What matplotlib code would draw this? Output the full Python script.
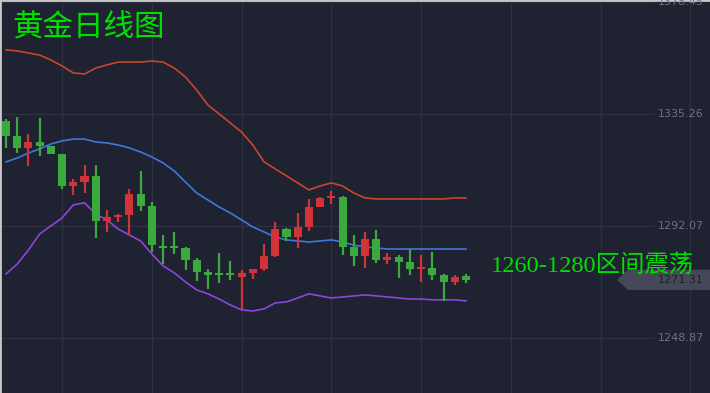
import matplotlib
matplotlib.use("Agg")
import matplotlib.pyplot as plt
import numpy as np
from matplotlib.patches import Polygon
from matplotlib.transforms import blended_transform_factory

plt.rcParams['font.family'] = ['Noto Sans CJK SC', 'DejaVu Sans']

# ---------------------------------------------------------------------------
# data
# ---------------------------------------------------------------------------
opens = [1332.6, 1326.8, 1322.2, 1324.5, 1322.9, 1319.8, 1307.5, 1309.0, 1311.4, 1294.0,
         1295.5, 1296.3, 1304.4, 1299.8, 1284.4, 1284.4, 1283.6, 1279.0, 1274.3, 1273.9,
         1273.9, 1272.4, 1273.9, 1275.5, 1280.5, 1290.9, 1287.8, 1291.7, 1299.4, 1302.9,
         1303.3, 1284.0, 1280.5, 1287.1, 1279.0, 1280.1, 1278.2, 1275.5, 1275.9, 1273.2,
         1270.5, 1272.8]
highs = [1333.3, 1334.1, 1327.6, 1333.7, 1322.9, 1319.8, 1310.2, 1315.6, 1315.6, 1298.2,
         1296.7, 1306.3, 1313.3, 1301.3, 1288.6, 1289.8, 1284.0, 1279.7, 1275.5, 1281.7,
         1278.6, 1275.1, 1275.5, 1285.1, 1293.6, 1291.3, 1297.1, 1302.5, 1303.3, 1305.6,
         1303.6, 1288.6, 1289.8, 1290.5, 1281.7, 1280.9, 1283.2, 1280.9, 1282.0, 1273.6,
         1273.2, 1273.6]
lows = [1322.2, 1320.2, 1315.2, 1319.1, 1319.8, 1306.3, 1304.0, 1304.8, 1287.4, 1289.8,
        1293.6, 1288.6, 1297.9, 1282.0, 1277.4, 1281.3, 1275.1, 1270.9, 1267.8, 1270.1,
        1271.3, 1260.1, 1271.6, 1274.7, 1280.1, 1286.3, 1283.6, 1290.1, 1299.4, 1300.6,
        1280.9, 1276.6, 1275.9, 1277.8, 1277.4, 1272.0, 1273.2, 1270.5, 1271.3, 1263.2,
        1269.3, 1270.1]
closes = [1326.8, 1322.2, 1324.5, 1322.9, 1319.8, 1307.5, 1309.0, 1311.4, 1294.0, 1295.5,
          1296.3, 1304.4, 1299.8, 1284.7, 1283.6, 1283.6, 1279.0, 1274.3, 1273.2, 1273.2,
          1273.2, 1273.9, 1275.5, 1280.5, 1290.9, 1287.8, 1291.7, 1299.4, 1302.9, 1303.6,
          1284.0, 1280.5, 1287.1, 1279.0, 1280.1, 1278.2, 1275.5, 1276.3, 1273.2, 1270.5,
          1272.4, 1271.31]

boll_upper = [1360.0, 1359.6, 1358.8, 1358.0, 1356.1, 1353.8, 1351.1, 1350.7, 1353.0, 1354.2,
              1355.3, 1355.3, 1355.3, 1355.7, 1355.3, 1353.0, 1349.5, 1344.5, 1338.7, 1335.3,
              1331.8, 1328.3, 1323.3, 1316.8, 1314.1, 1311.4, 1308.7, 1306.0, 1307.5, 1308.7,
              1307.5, 1304.8, 1302.9, 1302.5, 1302.5, 1302.5, 1302.5, 1302.5, 1302.5, 1302.5,
              1302.9, 1302.9]
boll_mid = [1316.8, 1318.3, 1320.2, 1321.8, 1323.7, 1324.9, 1325.6, 1325.6, 1324.5, 1324.1,
            1323.3, 1322.2, 1320.6, 1318.7, 1316.4, 1313.3, 1309.0, 1304.8, 1302.1, 1299.4,
            1297.1, 1294.4, 1291.7, 1289.8, 1287.8, 1286.7, 1286.3, 1285.9, 1286.3, 1286.7,
            1285.9, 1284.7, 1284.0, 1283.6, 1283.2, 1283.2, 1283.2, 1283.2, 1283.2, 1283.2,
            1283.2, 1283.2]
boll_lower = [1273.6, 1277.4, 1282.8, 1289.0, 1292.1, 1295.2, 1300.2, 1301.0, 1296.7, 1294.4,
              1290.9, 1288.6, 1286.3, 1281.3, 1276.7, 1274.0, 1270.5, 1267.4, 1265.9, 1263.9,
              1261.6, 1259.7, 1259.3, 1260.1, 1262.4, 1262.8, 1264.3, 1265.9, 1265.1, 1264.3,
              1264.7, 1265.1, 1265.5, 1265.1, 1264.7, 1264.3, 1263.9, 1263.9, 1263.6, 1263.6,
              1263.6, 1263.2]

price_ticks = [1378.45, 1335.26, 1292.07, 1248.87]
vgrid_idx = [5, 13, 21, 29, 37, 45, 53, 61]
last_price = 1271.31

TITLE = "黄金日线图"
NOTE = "1260-1280区间震荡"

# ---------------------------------------------------------------------------
# style
# ---------------------------------------------------------------------------
BG = "#1f2230"
GRID = "#2e3240"
UP = "#d13438"       # red = up
DOWN = "#3aaa3c"     # green = down
C_UPPER = "#c8462e"
C_MID = "#3f78dc"
C_LOWER = "#8c46dc"
TXT_GREEN = "#00e000"
AXIS_TXT = "#6c7282"

fig = plt.figure(figsize=(7.1, 3.93), dpi=100, facecolor=BG)
ax = fig.add_axes([0, 0, 1, 1])
ax.set_facecolor(BG)

n = len(opens)
idx = np.arange(n)
ax.set_xlim(-0.535, 62.75)
ax.set_ylim(1227.66, 1379.24)

# grid
for g in vgrid_idx:
    ax.axvline(g, color=GRID, lw=1, zorder=0)
for p in price_ticks:
    ax.axhline(p, xmax=653 / 710, color=GRID, lw=1, zorder=0)

# bollinger bands
ax.plot(idx, boll_upper, color=C_UPPER, lw=1.2, zorder=2)
ax.plot(idx, boll_mid, color=C_MID, lw=1.2, zorder=2)
ax.plot(idx, boll_lower, color=C_LOWER, lw=1.2, zorder=2)

# candles
o = np.array(opens)
c = np.array(closes)
colors = [UP if cc >= oo else DOWN for oo, cc in zip(o, c)]
ax.vlines(idx, lows, highs, colors=colors, lw=1.6, zorder=3)
body_h = np.maximum(np.abs(c - o), 0.7)
ax.bar(idx, body_h, bottom=np.minimum(o, c), width=0.72, color=colors, zorder=4)

# right price labels
tr = blended_transform_factory(ax.transAxes, ax.transData)
for p in price_ticks:
    ax.text(658 / 710, p, f"{p:.2f}", transform=tr, color=AXIS_TXT,
            fontsize=8, va="center", ha="left", family="DejaVu Sans")

# last price marker
hh = 3.9
marker = Polygon([(617 / 710, last_price), (628 / 710, last_price + hh),
                  (1.0, last_price + hh), (1.0, last_price - hh),
                  (628 / 710, last_price - hh)],
                 closed=True, transform=tr, facecolor="#454856",
                 edgecolor="none", zorder=5)
ax.add_patch(marker)
ax.text(658 / 710, last_price, f"{last_price:.2f}", transform=tr, color="#1e1f26",
        fontsize=8, va="center", ha="left", family="DejaVu Sans", zorder=6)

# texts
ax.text(12 / 710, 1 - 27 / 393, TITLE, transform=ax.transAxes, color=TXT_GREEN,
        fontsize=22, va="center", ha="left", zorder=7)
ax.text(491 / 710, 1 - 266 / 393, NOTE, transform=ax.transAxes, color=TXT_GREEN,
        fontsize=17.6, va="center", ha="left", zorder=7,
        family=["Liberation Serif", "Noto Sans CJK SC"])

# borders
for side in ("right", "bottom"):
    ax.spines[side].set_visible(False)
for side in ("top", "left"):
    ax.spines[side].set_color("#c8c8c8")
    ax.spines[side].set_linewidth(2)
ax.set_xticks([])
ax.set_yticks([])

fig.savefig("out.png", dpi=100, facecolor=BG)
